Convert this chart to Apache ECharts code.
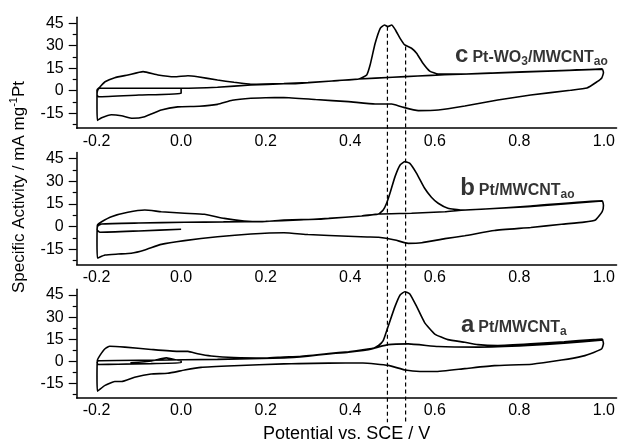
<!DOCTYPE html>
<html>
<head>
<meta charset="utf-8">
<script src="https://cdn.jsdelivr.net/npm/echarts@6/dist/echarts.min.js"></script>
<style>
  html, body { margin: 0; padding: 0; background: #fff; }
  #chart { width: 618px; height: 444px; }
</style>
</head>
<body>
<div id="chart"></div>
<script>
// Cyclic voltammograms (potential V vs. SCE, specific activity mA mg^-1 Pt)
// Each trace is one continuous scan path: initial sweep, first cycle, second cycle.

// c: Pt-WO3/MWCNTao
const panelC = [
  [0.0, 1.6], [0.0, -1.8], [-0.1, -2.9], [-0.196, -4.0], [-0.199, -2.5], [-0.197, 0.5], [-0.192, 1.6],
  [-0.1, 1.6], [0.0, 1.6], [0.086, 2.3], [0.165, 3.8], [0.243, 4.6], [0.278, 4.9], [0.357, 6.5], [0.42, 7.8],
  [0.439, 10.5], [0.447, 17.1], [0.459, 31.6], [0.471, 41.6], [0.481, 43.8], [0.489, 42.7], [0.498, 43.8],
  [0.507, 40.5], [0.518, 34.9], [0.529, 30.5], [0.545, 28.3], [0.557, 24.9], [0.572, 18.3], [0.588, 13.1],
  [0.608, 11.1], [0.655, 11.1], [0.749, 12.0], [0.866, 13.1], [0.996, 14.5], [0.999, 12.0], [0.995, 8.5],
  [0.984, 6.0], [0.96, 1.8], [0.921, 0.3], [0.827, -2.9], [0.749, -6.2], [0.671, -10.2], [0.608, -12.9],
  [0.561, -13.3], [0.521, -10.7], [0.498, -8.9], [0.459, -8.9], [0.396, -7.3], [0.318, -5.9], [0.243, -4.5],
  [0.2, -4.7], [0.165, -5.0], [0.121, -6.4], [0.086, -9.1], [0.043, -10.4], [-0.008, -10.8], [-0.047, -12.9],
  [-0.086, -17.3], [-0.115, -18.4], [-0.141, -16.7], [-0.165, -16.0], [-0.188, -18.0], [-0.198, -19.8],
  [-0.199, -10], [-0.199, 0.5], [-0.192, 2.5], [-0.18, 6.0], [-0.157, 8.7], [-0.126, 10.5], [-0.09, 12.7],
  [-0.055, 10.5], [-0.016, 9.3], [0.016, 10.0], [0.039, 9.3], [0.086, 7.1], [0.125, 5.6], [0.165, 4.3],
  [0.243, 4.8], [0.3, 5.5], [0.357, 6.5], [0.42, 7.8], [0.5, 9.0], [0.56, 9.8], [0.623, 10.6], [0.7, 11.4],
  [0.8, 12.4], [0.9, 13.4], [0.996, 14.4]
];

// b: Pt/MWCNTao
const panelB = [
  [0.0, -1.7], [-0.1, -2.8], [-0.192, -3.7], [-0.199, -2.0], [-0.197, 0.5], [-0.188, 1.8], [-0.1, 2.4],
  [0.008, 2.9], [0.1, 3.2], [0.2, 3.6], [0.278, 4.4], [0.349, 5.5], [0.427, 7.1], [0.467, 8.4], [0.478, 11.0],
  [0.486, 15.5], [0.494, 22.1], [0.506, 33.1], [0.518, 40.8], [0.529, 43.0], [0.541, 41.9], [0.557, 35.3],
  [0.576, 25.4], [0.592, 19.5], [0.608, 15.5], [0.631, 12.2], [0.663, 11.0], [0.71, 11.5], [0.827, 13.7],
  [0.996, 17.2], [0.999, 14.0], [0.996, 9.9], [0.98, 4.4], [0.953, 3.0], [0.9, 1.6], [0.827, -0.5],
  [0.741, -2.5], [0.671, -6.0], [0.624, -7.9], [0.569, -10.6], [0.537, -11.0], [0.506, -8.8], [0.467, -7.0],
  [0.44, -6.8], [0.35, -5.8], [0.3, -5.2], [0.243, -4.0], [0.165, -4.8], [0.086, -6.6], [0.008, -9.2],
  [-0.047, -11.7], [-0.086, -15.4], [-0.118, -17.6], [-0.149, -18.1], [-0.18, -18.7], [-0.198, -20.7],
  [-0.199, -10], [-0.198, 1.1], [-0.188, 3.3], [-0.165, 6.6], [-0.126, 9.5], [-0.086, 11.0], [-0.047, 9.9],
  [0.008, 8.9], [0.055, 8.2], [0.102, 5.5], [0.149, 3.8], [0.188, 3.3], [0.243, 4.4], [0.325, 4.9],
  [0.35, 5.5], [0.427, 7.1], [0.467, 8.4], [0.545, 8.9], [0.624, 9.9], [0.663, 10.9], [0.82, 13.2],
  [0.996, 17.0]
];

// a: Pt/MWCNTa
const panelA = [
  [-0.12, -1.0], [-0.07, 0.2], [-0.035, 2.3], [-0.01, 0.8], [0.0, 0.3], [0.0, -1.1], [-0.071, -1.6],
  [-0.149, -2.0], [-0.196, -2.2], [-0.199, -1.0], [-0.196, 0.3], [-0.071, 0.7], [0.086, 1.3], [0.243, 2.3],
  [0.3, 3.5], [0.349, 5.0], [0.396, 6.2], [0.451, 8.4], [0.467, 10.7], [0.478, 14.0], [0.49, 24.0],
  [0.506, 37.3], [0.518, 45.1], [0.529, 47.3], [0.541, 45.8], [0.557, 37.3], [0.576, 26.3], [0.6, 18.5],
  [0.631, 14.7], [0.671, 12.9], [0.702, 11.3], [0.749, 10.7], [0.827, 11.8], [0.906, 13.3], [0.976, 14.7],
  [0.996, 15.1], [0.999, 12.0], [0.995, 8.5], [0.976, 6.0], [0.95, 3.5], [0.9, 0.8], [0.83, -2.0],
  [0.741, -3.0], [0.671, -5.0], [0.6, -7.0], [0.565, -7.0], [0.53, -6.0], [0.49, -2.8], [0.43, -1.2],
  [0.349, -1.3], [0.278, -1.6], [0.243, -1.8], [0.125, -3.1], [0.047, -4.2], [0.008, -6.0], [-0.032, -8.2],
  [-0.071, -8.7], [-0.11, -10.9], [-0.141, -13.8], [-0.157, -13.8], [-0.18, -16.4], [-0.198, -20.4],
  [-0.199, -10], [-0.198, 0.7], [-0.192, 4.0], [-0.18, 8.5], [-0.169, 10.2], [-0.133, 9.6], [-0.071, 8.0],
  [-0.008, 6.7], [0.016, 6.7], [0.039, 5.1], [0.071, 3.6], [0.125, 2.5], [0.2, 2.2], [0.243, 2.9],
  [0.278, 3.2], [0.349, 5.2], [0.396, 6.5], [0.451, 8.6], [0.49, 11.3], [0.537, 11.8], [0.608, 10.0],
  [0.702, 9.6], [0.82, 10.7], [0.906, 12.3], [0.999, 14.5]
];

// tick values
const xTicks = [-0.2, 0.0, 0.2, 0.4, 0.6, 0.8, 1.0];
const yMajor = [-15, 0, 15, 30, 45];
const yMinor = [-22.5, -7.5, 7.5, 22.5, 37.5];

// peak reference lines (potential, upper end in the top panel)
const dashX = [0.488, 0.531];
const dashTop = [42.7, 29.5];
const dashBottom = -221;

// panel tags and sample names, top to bottom
const panelTags = ['c', 'b', 'a'];
const sampleNames = [
  '{t|Pt-WO}{s|3}{t|/MWCNT}{s|ao}',
  '{t|Pt/MWCNT}{s|ao}',
  '{t|Pt/MWCNT}{s|a}'
];
const tagX = [0.648, 0.66, 0.662];
const tagY = [23.1, 25.0, 24.0];

const traces = [panelC, panelB, panelA];

const FONT = '"Liberation Sans", Arial, Helvetica, sans-serif';
const grids = [
  { left: 76.7, width: 542.7, top: 17.2, height: 111 },
  { left: 76.7, width: 542.7, top: 152.6, height: 111.9 },
  { left: 76.7, width: 542.7, top: 289.2, height: 111 }
];

const xAxes = [], yAxes = [], series = [];
const axisColor = '#000';

for (let i = 0; i < 3; i++) {
  xAxes.push({
    gridIndex: i, type: 'value', min: -0.247, max: 1.03,
    axisLine: { show: true, onZero: false, lineStyle: { color: axisColor, width: 1.5 } },
    axisTick: { show: false },
    splitLine: { show: false },
    axisLabel: {
      customValues: xTicks, color: '#000', fontSize: 16, fontFamily: FONT, margin: 5,
      formatter: v => v.toFixed(1)
    },
    name: i === 2 ? 'Potential vs. SCE / V' : '',
    nameLocation: 'middle', nameGap: 27,
    nameTextStyle: { color: '#000', fontSize: 18, fontFamily: FONT }
  });
  yAxes.push({
    gridIndex: i, type: 'value', min: -25, max: 49, position: 'left',
    axisLine: { show: true, onZero: false, lineStyle: { color: axisColor, width: 1.5 } },
    axisTick: { show: true, customValues: yMajor, length: 8, lineStyle: { color: axisColor, width: 1.2 } },
    splitLine: { show: false },
    axisLabel: { customValues: yMajor, color: '#000', fontSize: 16, fontFamily: FONT, margin: 13 }
  });
  yAxes.push({
    gridIndex: i, type: 'value', min: -25, max: 49, position: 'left', offset: 0,
    axisLine: { show: false, onZero: false },
    axisTick: { show: true, customValues: yMinor, length: 4, lineStyle: { color: axisColor, width: 1.2 } },
    splitLine: { show: false },
    axisLabel: { show: false }
  });

  series.push({
    type: 'line', xAxisIndex: i, yAxisIndex: 2 * i, data: traces[i],
    symbol: 'none', smooth: 0.15, silent: true,
    lineStyle: { color: '#000', width: 1.6 }
  });

  series.push({
    type: 'scatter', xAxisIndex: i, yAxisIndex: 2 * i, symbolSize: 0, silent: true,
    data: [[tagX[i], tagY[i]]],
    label: {
      show: true, position: 'right', distance: 0,
      formatter: '{big|' + panelTags[i] + '}' + sampleNames[i],
      rich: {
        big: { fontSize: 24, fontWeight: 'bold', color: '#000', fontFamily: FONT, lineHeight: 24, verticalAlign: 'bottom', padding: [0, 4, 1, 0] },
        t: { fontSize: 16, fontWeight: 'bold', color: '#000', fontFamily: FONT, lineHeight: 16, verticalAlign: 'bottom', padding: [0, 0, 2, 0] },
        s: { fontSize: 12, fontWeight: 'bold', color: '#000', fontFamily: FONT, lineHeight: 12, verticalAlign: 'bottom', padding: [0, 0, 0, 0] }
      }
    }
  });
}

// dashed guides at the two oxidation peak potentials, running down through all panels
for (let k = 0; k < dashX.length; k++) {
  series.push({
    type: 'line', xAxisIndex: 0, yAxisIndex: 0, clip: false, symbol: 'none', silent: true,
    data: [[dashX[k], dashTop[k]], [dashX[k], dashBottom]],
    lineStyle: { color: '#000', width: 1.2, type: [4, 3] },
    z: 1
  });
}

const chart = echarts.init(document.getElementById('chart'), null, { renderer: 'canvas' });
chart.setOption({
  animation: false,
  backgroundColor: '#fff',
  grid: grids,
  xAxis: xAxes,
  yAxis: yAxes,
  series: series,
  graphic: [{
    type: 'text', x: 18, y: 187, rotation: Math.PI / 2,
    style: {
      text: '{m|Specific Activity / mA mg}{p|-1}{m|Pt}',
      align: 'center', verticalAlign: 'middle',
      rich: {
        m: { fontSize: 17, fontFamily: FONT, fill: '#000', lineHeight: 20, verticalAlign: 'bottom' },
        p: { fontSize: 11, fontFamily: FONT, fill: '#000', lineHeight: 11, verticalAlign: 'top' }
      }
    }
  }]
});
</script>
</body>
</html>
